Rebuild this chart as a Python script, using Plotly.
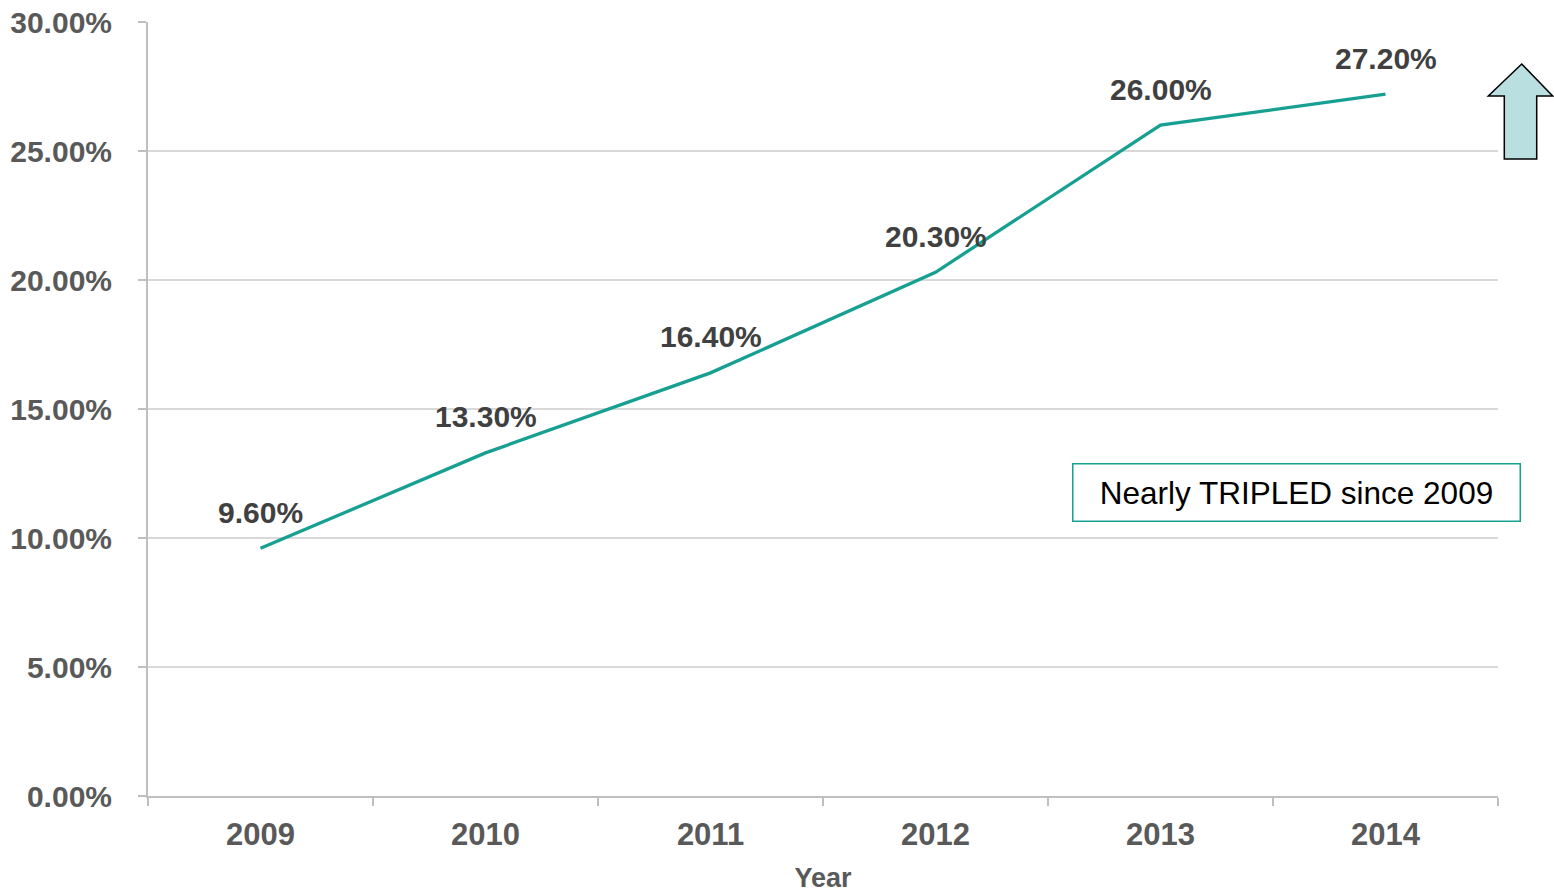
import plotly.graph_objects as go

years = ["2009", "2010", "2011", "2012", "2013", "2014"]
values = [9.60, 13.30, 16.40, 20.30, 26.00, 27.20]
labels = ["9.60%", "13.30%", "16.40%", "20.30%", "26.00%", "27.20%"]
y_ticks = [0, 5, 10, 15, 20, 25, 30]
y_tick_labels = ["0.00%", "5.00%", "10.00%", "15.00%", "20.00%", "25.00%", "30.00%"]

W, H = 1554, 893
ML, MR, MT, MB = 148, 56, 22, 97
PW, PH = W - ML - MR, H - MT - MB


def px(x, y):
    return (x - ML) / PW, (H - MB - y) / PH


FONT = "Liberation Sans, Arial, sans-serif"
TEAL = "#17A092"

fig = go.Figure()
fig.add_trace(go.Scatter(
    x=years, y=values, mode="lines",
    line=dict(color=TEAL, width=3.3),
    hoverinfo="skip", showlegend=False,
))

for i, (v, lab) in enumerate(zip(values, labels)):
    fig.add_annotation(
        x=i, y=v, xref="x", yref="y", text="<b>%s</b>" % lab, showarrow=False,
        yanchor="middle", yshift=36,
        font=dict(family=FONT, size=30, color="#404040"),
    )

# callout box
bx, by = px(1296, 492)
fig.add_annotation(
    x=bx, y=by, xref="paper", yref="paper", xanchor="center", yanchor="middle",
    text="Nearly TRIPLED since 2009", showarrow=False,
    font=dict(family=FONT, size=31.5, color="#000000"),
    bordercolor=TEAL, borderwidth=1.5, borderpad=1, bgcolor="white",
    width=444, height=54, align="center",
)

# up arrow
pts = [(1521.7, 64), (1552.7, 96), (1536.7, 96), (1536.7, 159),
       (1504.3, 159), (1504.3, 96), (1488.3, 96)]
path = ""
for k, (a, b) in enumerate(pts):
    u, w = px(a, b)
    path += ("M" if k == 0 else "L") + " %f %f " % (u, w)
path += "Z"
fig.add_shape(type="path", path=path, xref="paper", yref="paper",
              fillcolor="#B9DFE1", line=dict(color="#000000", width=1.5))

fig.update_layout(
    width=W, height=H,
    margin=dict(l=ML, r=MR, t=MT, b=MB),
    plot_bgcolor="white", paper_bgcolor="white",
    font=dict(family=FONT),
    xaxis=dict(
        type="category", range=[-0.5, 5.5], automargin=False,
        showgrid=False, showline=True, linecolor="#BFBFBF", linewidth=2,
        ticks="outside", tickson="boundaries", ticklen=8, tickcolor="#BFBFBF", tickwidth=2,
        tickfont=dict(family=FONT, size=31, color="#595959", weight="bold"),
        ticklabelstandoff=10,
        title=dict(text="<b>Year</b>", font=dict(family=FONT, size=27, color="#595959"), standoff=21),
        zeroline=False,
    ),
    yaxis=dict(
        range=[0, 30], tickvals=y_ticks, ticktext=y_tick_labels, automargin=False,
        showgrid=True, gridcolor="#D9D9D9", gridwidth=2,
        showline=True, linecolor="#BFBFBF", linewidth=2,
        ticks="outside", ticklen=8, tickcolor="#BFBFBF", tickwidth=2,
        tickfont=dict(family=FONT, size=30, color="#595959", weight="bold"),
        ticklabelstandoff=20,
        zeroline=False,
    ),
)

fig.write_html("out.html")
